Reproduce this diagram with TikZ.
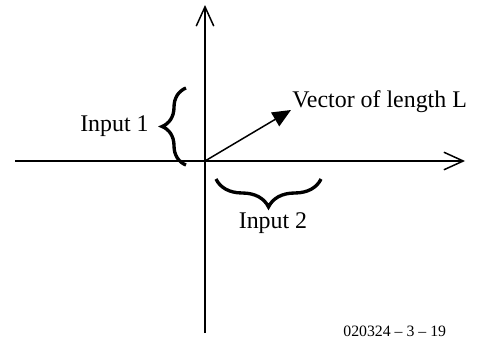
\documentclass[tikz,border=0pt]{standalone}
\usepackage{fontspec}
\setmainfont{Liberation Serif}
\usepackage{tikz}
\usetikzlibrary{positioning, arrows.meta, decorations.pathreplacing}

\begin{document}
\begin{tikzpicture}[
    x=0.02cm, y=-0.02cm,
    axis/.style={line width=0.85pt, -{Straight Barb[length=11pt, width=10pt, line width=0.85pt]}},
    vec/.style={line width=0.85pt, -{Triangle[length=10.5pt, width=9pt]}},
    curly/.style={decorate, decoration={brace, amplitude=#1}, line width=1.9pt},
    label/.style={font=\fontsize{13.6}{16}\selectfont, inner sep=0pt}
]
    \useasboundingbox (0,0) rectangle (480,338);

    % Axes
    \coordinate (origin) at (205,161);
    \coordinate (xleft) at (15,161);
    \coordinate (xright) at (465,161);
    \coordinate (ybot) at (205,333);
    \coordinate (ytop) at (205,5);
    \draw[axis] (xleft) -- (xright);
    \draw[axis] (ybot) -- (ytop);

    % Vector
    \coordinate (vtip) at (291,110);
    \draw[vec] (origin) -- (vtip);
    \node[label, anchor=base west] (vlabel) at (292,107) {Vector of length L};

    % Input 1
    \coordinate (b1lo) at (186,165);
    \coordinate (b1hi) at (186,88);
    \draw[curly=0.48cm] (b1lo) -- (b1hi);
    \node[label, anchor=base east] (in1) at (149,131) {Input 1};

    % Input 2
    \coordinate (b2l) at (216,179);
    \coordinate (b2r) at (321,179);
    \draw[curly=0.56cm] (b2r) -- (b2l);
    \node[label, anchor=base] (in2) at (273,228) {Input 2};

    % Figure number
    \node[font=\fontsize{9}{11}\selectfont, inner sep=0pt, anchor=base west] (fignum) at (343,336) {020324 -- 3 -- 19};
\end{tikzpicture}
\end{document}
